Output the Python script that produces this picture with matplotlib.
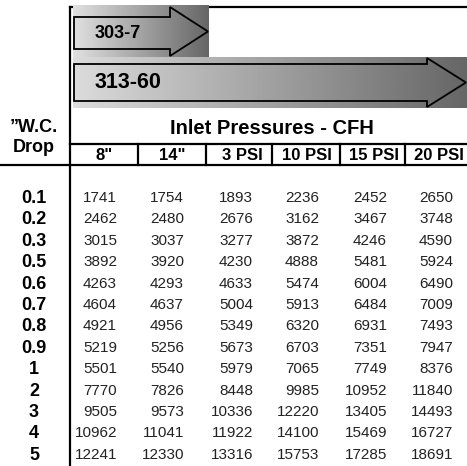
import numpy as np
import matplotlib
matplotlib.use("Agg")
import matplotlib.pyplot as plt
from matplotlib.patches import Polygon

# table data
drops = ['0.1', '0.2', '0.3', '0.5', '0.6', '0.7', '0.8', '0.9', '1', '2', '3', '4', '5']
columns = ['8"', '14"', '3 PSI', '10 PSI', '15 PSI', '20 PSI']
cfh_8in = [1741, 2462, 3015, 3892, 4263, 4604, 4921, 5219, 5501, 7770, 9505, 10962, 12241]
cfh_14in = [1754, 2480, 3037, 3920, 4293, 4637, 4956, 5256, 5540, 7826, 9573, 11041, 12330]
cfh_3psi = [1893, 2676, 3277, 4230, 4633, 5004, 5349, 5673, 5979, 8448, 10336, 11922, 13316]
cfh_10psi = [2236, 3162, 3872, 4888, 5474, 5913, 6320, 6703, 7065, 9985, 12220, 14100, 15753]
cfh_15psi = [2452, 3467, 4246, 5481, 6004, 6484, 6931, 7351, 7749, 10952, 13405, 15469, 17285]
cfh_20psi = [2650, 3748, 4590, 5924, 6490, 7009, 7493, 7947, 8376, 11840, 14493, 16727, 18691]
table = [cfh_8in, cfh_14in, cfh_3psi, cfh_10psi, cfh_15psi, cfh_20psi]

plt.rcParams['font.family'] = ['Liberation Sans', 'DejaVu Sans']

W, H = 467, 466
fig = plt.figure(figsize=(W / 100, H / 100), dpi=100)
ax = fig.add_axes([0, 0, 1, 1])
ax.set_xlim(0, W)
ax.set_ylim(H, 0)
ax.axis('off')

# layout (pixel coords)
col_edges = [70, 138, 206, 272, 340, 405, 467]
val_right = [117, 184, 253, 319, 387, 453]
head_x = [104, 172, 242, 307, 374, 439]
row_y0, row_dy = 198, 21.4


def gradient_box(x0, x1, y0, y1, c0, c1):
    grad = np.linspace(c0, c1, 256).reshape(1, -1)
    ax.imshow(grad, cmap='gray', vmin=0, vmax=1, aspect='auto',
              extent=(x0, x1, y1, y0), zorder=1, interpolation='bilinear')


def arrow(x0, xh, xt, by0, by1, hy0, hy1):
    yc = (hy0 + hy1) / 2
    pts = [(x0, by0), (xh, by0), (xh, hy0), (xt, yc), (xh, hy1), (xh, by1), (x0, by1)]
    ax.add_patch(Polygon(pts, closed=True, fill=False, ec='black', lw=1.3, zorder=3))


# frame lines
ax.plot([70, 70], [7, H], color='black', lw=1.6, zorder=2)
ax.plot([70, W], [7, 7], color='black', lw=1.6, zorder=0)

# arrows
gradient_box(73, 209, 5, 57, 0.88, 0.40)
arrow(74, 170, 208, 17, 49, 7, 56)
ax.text(95, 33, '303-7', fontsize=13, fontweight='bold', va='center', ha='left', zorder=4)

gradient_box(73, 467, 57, 108, 0.86, 0.40)
arrow(74, 427, 466, 64, 101, 58, 107)
ax.text(95, 83, '313-60', fontsize=15.5, fontweight='bold', va='center', ha='left', zorder=4)

# headers
ax.text(272, 128, 'Inlet Pressures - CFH', fontsize=14.5, fontweight='bold',
        ha='center', va='center')
ax.text(34, 127, '\u201dW.C.', fontsize=13, fontweight='bold', ha='center', va='center')
ax.text(34, 148, 'Drop', fontsize=13, fontweight='bold', ha='center', va='center')

ax.plot([70, W], [144, 144], color='black', lw=1.6)
ax.plot([0, W], [165, 165], color='black', lw=1.6)
for x in col_edges[1:-1]:
    ax.plot([x, x], [144, 165], color='black', lw=1.6)

for x, name in zip(head_x, columns):
    ax.text(x, 155.5, name, fontsize=12, fontweight='bold', ha='center', va='center')

# body
for i, d in enumerate(drops):
    y = row_y0 + i * row_dy
    ax.text(34, y + 0.5, d, fontsize=13, fontweight='bold', ha='center', va='center')
    for j, col in enumerate(table):
        ax.text(val_right[j], y, str(col[i]), fontsize=11, color='#222222',
                ha='right', va='center')

fig.savefig('out.png', dpi=100)
